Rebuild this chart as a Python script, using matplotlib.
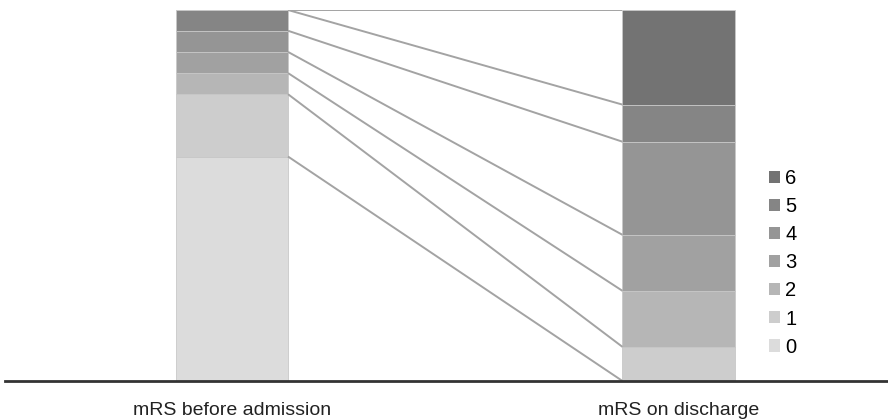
import numpy as np
import matplotlib
matplotlib.use("Agg")
import matplotlib.pyplot as plt
from matplotlib.patches import Patch

plt.rcParams['font.family'] = ['Liberation Sans', 'DejaVu Sans']

# mRS distribution in percent, categories 0..6
categories = ['0', '1', '2', '3', '4', '5', '6']
groups = ['mRS before admission', 'mRS on discharge']
before = [60.5, 16.8, 5.7, 5.7, 5.7, 5.6, 0.0]
discharge = [0.0, 9.2, 15.1, 15.1, 25.1, 10.0, 25.5]
colors = ['#dcdcdc', '#cdcdcd', '#b6b6b6', '#a1a1a1', '#959595', '#858585', '#737373']

fig = plt.figure(figsize=(8.88, 4.2), dpi=100)
ax = fig.add_axes([5 / 888, 39 / 420, 883 / 888, 371 / 420])

x = np.arange(len(groups))
width = 0.251
data = np.array([before, discharge])
bottoms = np.zeros(len(groups))
for i, cat in enumerate(categories):
    ax.bar(x, data[:, i], width, bottom=bottoms, color=colors[i],
           edgecolor='#c8c8c8', linewidth=0.6)
    bottoms += data[:, i]

# connector lines between the top of each category
tops_left = np.cumsum(before)
tops_right = np.cumsum(discharge)
for tl, tr in zip(tops_left, tops_right):
    ax.plot([x[0] + width / 2, x[1] - width / 2], [tl, tr],
            color='#a3a3a3', lw=1.4, solid_capstyle='butt', zorder=1)

ax.set_xlim(-0.5084, 1.4692)
ax.set_ylim(0, 100)
ax.set_xticks(x)
ax.set_xticklabels(groups, fontsize=14, color='#222222')
ax.tick_params(axis='x', length=0, pad=15)
ax.set_yticks([])
for s in ['top', 'right', 'left']:
    ax.spines[s].set_visible(False)
ax.spines['bottom'].set_linewidth(2)
ax.spines['bottom'].set_color('#333333')

handles = [Patch(facecolor=colors[i], edgecolor='none') for i in range(len(categories))]
fig.legend(handles[::-1], categories[::-1], loc='center left',
           bbox_to_anchor=(0.866, 0.374), frameon=False, fontsize=14.5,
           handlelength=0.55, handleheight=0.55, handletextpad=0.25,
           labelspacing=0.45, borderpad=0, borderaxespad=0)

fig.savefig('out.png', dpi=100)
